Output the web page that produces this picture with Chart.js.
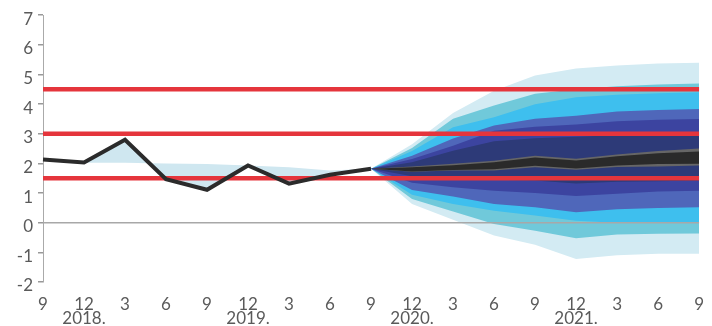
<!DOCTYPE html>
<html><head><meta charset="utf-8">
<script src="https://cdn.jsdelivr.net/npm/chart.js@4"></script>
<style>html,body{margin:0;padding:0;background:#fff}canvas{display:block}</style>
</head><body>
<canvas id="c" width="712" height="326"></canvas>
<script>
// ---- data ----
const months = ['9','12','3','6','9','12','3','6','9','12','3','6','9','12','3','6','9'];
const years  = ['','2018.','','','','2019.','','','','2020.','','','','2021.','','',''];
const yTicks = [-2,-1,0,1,2,3,4,5,6,7];
const targetUpper = 4.5, targetMid = 3, targetLower = 1.5;
const zeroLevel = 0;
// actual inflation, 2018-09 .. 2020-09
const actual   = [2.13, 2.03, 2.80, 1.47, 1.11, 1.93, 1.32, 1.62, 1.82];
// light shaded reference band in history
const histBand = [2.10, 2.02, 2.02, 2.00, 1.98, 1.93, 1.87, 1.76, 1.82];
// fan chart, 2020-09 .. 2022-09
const fanStartIndex = 8;
const lightTop  = [1.82, 2.65, 3.70, 4.45, 4.97, 5.20, 5.30, 5.37, 5.40];
const tealTop   = [1.82, 2.52, 3.51, 3.95, 4.35, 4.50, 4.60, 4.66, 4.70];
const cyanTop   = [1.82, 2.42, 3.22, 3.56, 4.00, 4.23, 4.32, 4.37, 4.40];
const blueTop   = [1.82, 2.26, 2.84, 3.28, 3.51, 3.61, 3.75, 3.80, 3.84];
const indigoTop = [1.82, 2.15, 2.60, 3.10, 3.24, 3.31, 3.42, 3.47, 3.50];
const navyTop   = [1.82, 2.04, 2.43, 2.75, 2.85, 2.90, 2.95, 3.00, 3.00];
const grayTop   = [1.82, 1.90, 1.99, 2.09, 2.26, 2.16, 2.30, 2.42, 2.50];
const blackTop  = [1.82, 1.87, 1.94, 2.04, 2.20, 2.10, 2.24, 2.34, 2.40];
const blackBot  = [1.82, 1.73, 1.78, 1.80, 1.92, 1.83, 1.93, 1.98, 1.99];
const grayBot   = [1.82, 1.72, 1.76, 1.76, 1.87, 1.79, 1.88, 1.90, 1.93];
const navyBot   = [1.82, 1.57, 1.47, 1.45, 1.42, 1.32, 1.38, 1.40, 1.42];
const indigoBot = [1.82, 1.35, 1.20, 1.08, 1.00, 0.90, 0.98, 1.05, 1.08];
const blueBot   = [1.82, 1.10, 0.88, 0.63, 0.52, 0.35, 0.45, 0.50, 0.52];
const cyanBot   = [1.82, 0.94, 0.63, 0.40, 0.24, 0.07, 0.00, 0.00, 0.01];
const tealBot   = [1.82, 0.80, 0.38, -0.04, -0.27, -0.52, -0.40, -0.37, -0.36];
const lightBot  = [1.82, 0.63, 0.10, -0.43, -0.74, -1.22, -1.10, -1.05, -1.05];

// ---- build ----
const N = months.length;
const labels = months.map((m, i) => years[i] ? [m, years[i]] : m);
const padEnd = a => a.concat(Array(N - a.length).fill(null));
const padStart = a => Array(fanStartIndex).fill(null).concat(a);
const flat = v => Array(N).fill(v);
const clear = 'rgba(0,0,0,0)';

const datasets = [];
function add(ds) { datasets.push(Object.assign({pointRadius:0, pointHoverRadius:0, tension:0, fill:false, borderWidth:0, borderColor:clear}, ds)); return datasets.length - 1; }

add({data: padEnd(actual), borderColor:'#2b2b2b', borderWidth:4, order:1, borderJoinStyle:'miter'});
add({data: flat(targetUpper), borderColor:'#e5353c', borderWidth:4.5, order:2});
add({data: flat(targetMid), borderColor:'#e5353c', borderWidth:4.5, order:2});
add({data: flat(targetLower), borderColor:'#e5353c', borderWidth:4.5, order:2});
add({data: flat(zeroLevel), borderColor:'#a8a8a8', borderWidth:1.5, order:3});
add({data: padEnd(histBand), fill:{target:0}, backgroundColor:'#cfe7f0', order:5});

const layers = [
  [lightTop, lightBot, '#d3ebf3'],
  [tealTop, tealBot, '#70c9da'],
  [cyanTop, cyanBot, '#3ebfee'],
  [blueTop, blueBot, '#4f67ba'],
  [indigoTop, indigoBot, '#3c44a0'],
  [navyTop, navyBot, '#2d3a78'],
  [grayTop, grayBot, '#666666'],
  [blackTop, blackBot, '#2a2a2a'],
];
layers.forEach((l, k) => {
  const ord = 30 - k;
  const bi = add({data: padStart(l[1]), order: ord});
  add({data: padStart(l[0]), fill:{target: bi}, backgroundColor: l[2], order: ord});
});

new Chart(document.getElementById('c'), {
  type: 'line',
  data: {labels, datasets},
  options: {
    responsive: false,
    animation: false,
    layout: {padding: {top: 15, right: 9, left: 0, bottom: 0}},
    plugins: {legend: {display:false}, tooltip: {enabled:false}},
    scales: {
      x: {
        offset: false,
        grid: {display: false},
        border: {display: false},
        ticks: {autoSkip:false, maxRotation:0, color:'#5a5a5a', padding: 8,
                font: {family:'Lato', size:17, lineHeight:0.8}},
        afterFit: s => { s.height = 44; }
      },
      y: {
        min: -2, max: 7,
        afterBuildTicks: s => { s.ticks = yTicks.map(v => ({value: v})); },
        grid: {color: clear, tickColor:'#999', tickLength:5, lineWidth:1.5},
        border: {display:true, color:'#aaa', width:1},
        ticks: {color:'#5a5a5a', padding:5, labelOffset:4, font:{family:'Lato', size:17}},
        afterFit: s => { s.width = 43; }
      }
    }
  }
});
</script>
</body></html>
